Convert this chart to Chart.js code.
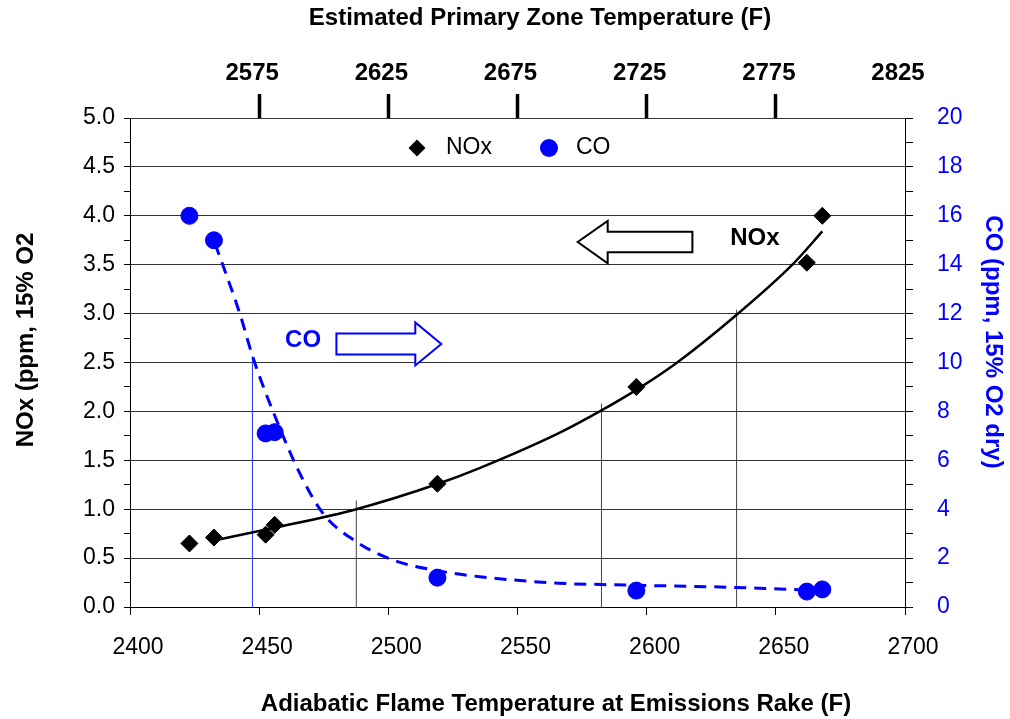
<!DOCTYPE html>
<html>
<head>
<meta charset="utf-8">
<script src="https://cdn.jsdelivr.net/npm/chart.js@4.4.1/dist/chart.umd.min.js"></script>
<style>
  html, body { margin: 0; padding: 0; background: #fff; }
  #wrap { width: 1010px; height: 719px; position: relative; }
</style>
</head>
<body>
<div id="wrap"><canvas id="grafica"></canvas></div>
<script>
// rake temperature (F) of each test point
const tempRake = [2423, 2432.5, 2452.5, 2456, 2519, 2596, 2662, 2668];
const noxPpm = [0.65, 0.71, 0.74, 0.84, 1.26, 2.25, 3.52, 4.00];
const coPpm = [16.0, 15.0, 7.1, 7.15, 1.2, 0.67, 0.63, 0.72];

// trend curves
const noxFitTemp = [2432.5, 2456, 2487.6, 2519.3, 2535.3, 2566.2, 2582.5, 2596, 2611.3, 2634.5, 2656.4, 2668];
const noxFitPpm = [0.68, 0.81, 1.00, 1.26, 1.42, 1.78, 2.01, 2.22, 2.49, 2.98, 3.50, 3.84];
const coFitTemp = [2432.9, 2442.5, 2447.7, 2456.7, 2465.7, 2474.7, 2487.6, 2501.8, 2519.8, 2535.3, 2566.2, 2582.4, 2634.5, 2655, 2668];
const coFitPpm = [14.87, 12.0, 10.17, 7.65, 5.47, 3.83, 2.67, 1.92, 1.47, 1.24, 0.97, 0.92, 0.80, 0.72, 0.68];

// drop lines down to the rake axis
const dropTemp = [2447.4, 2487.6, 2582.5, 2634.8];
const dropTop = [10.25, 1.09, 2.08, 3.04];
const dropAxis = ['y2', 'y', 'y', 'y'];

// primary zone temperature axis (top)
const zoneTicks = [2575, 2625, 2675, 2725, 2775, 2825];
const zoneOffset = 125;

const fuente = "'Liberation Sans', Arial, sans-serif";
const azul = '#0000ff';

function puntos(xs, ys) {
  return xs.map((x, i) => ({ x: x, y: ys[i] }));
}

function esMayor(v, paso) {
  return Math.abs(v / paso - Math.round(v / paso)) < 1e-6;
}

function texto(ctx, t, x, y, rot, font, color, align) {
  ctx.save();
  ctx.translate(x, y);
  ctx.rotate(rot);
  ctx.font = font;
  ctx.fillStyle = color;
  ctx.textAlign = align || 'center';
  ctx.textBaseline = 'middle';
  ctx.fillText(t, 0, 0);
  ctx.restore();
}

function flecha(ctx, x0, x1, yc, body, head, headLen, color) {
  const d = Math.sign(x1 - x0);
  const xb = x1 - d * headLen;
  ctx.beginPath();
  ctx.moveTo(x0, yc - body);
  ctx.lineTo(xb, yc - body);
  ctx.lineTo(xb, yc - head);
  ctx.lineTo(x1, yc);
  ctx.lineTo(xb, yc + head);
  ctx.lineTo(xb, yc + body);
  ctx.lineTo(x0, yc + body);
  ctx.closePath();
  ctx.fillStyle = '#fff';
  ctx.fill();
  ctx.lineWidth = 2;
  ctx.strokeStyle = color;
  ctx.stroke();
}

// axis titles, legend and the two arrow call-outs
const extras = {
  id: 'extras',
  afterDraw(chart) {
    const { ctx, scales } = chart;
    const x = scales.x, y = scales.y;
    const bold = 'bold 24px ' + fuente;
    const normal = '23px ' + fuente;

    texto(ctx, 'Estimated Primary Zone Temperature (F)', 540, 18, 0, bold, '#000');
    texto(ctx, 'Adiabatic Flame Temperature at Emissions Rake (F)', 556, 704, 0, bold, '#000');
    texto(ctx, 'NOx (ppm, 15% O2', 26, 340, -Math.PI / 2, bold, '#000');
    texto(ctx, 'CO (ppm, 15% O2 dry)', 993, 342, Math.PI / 2, bold, azul);

    // legend
    ctx.save();
    ctx.fillStyle = '#000';
    ctx.beginPath();
    ctx.moveTo(408.5, 148); ctx.lineTo(417, 139.5); ctx.lineTo(425.5, 148); ctx.lineTo(417, 156.5);
    ctx.closePath();
    ctx.fill();
    ctx.fillStyle = azul;
    ctx.beginPath();
    ctx.arc(549, 148, 9, 0, Math.PI * 2);
    ctx.fill();
    ctx.restore();
    texto(ctx, 'NOx', 446, 148, 0, normal, '#000', 'left');
    texto(ctx, 'CO', 576, 148, 0, normal, '#000', 'left');

    // call-outs
    flecha(ctx, x.getPixelForValue(2479.9), x.getPixelForValue(2520.5), y.getPixelForValue(2.69), 10.5, 21.5, 26, azul);
    texto(ctx, 'CO', x.getPixelForValue(2467), y.getPixelForValue(2.73), 0, bold, azul);
    flecha(ctx, x.getPixelForValue(2617.7), x.getPixelForValue(2573.3), y.getPixelForValue(3.732), 10.3, 21.2, 30, '#000');
    texto(ctx, 'NOx', x.getPixelForValue(2641.9), y.getPixelForValue(3.77), 0, bold, '#000');
  }
};

const lineasCaida = dropTemp.map((t, i) => ({
  label: 'drop' + i,
  data: [{ x: t, y: 0 }, { x: t, y: dropTop[i] }],
  yAxisID: dropAxis[i],
  borderColor: dropAxis[i] === 'y2' ? '#2233ff' : '#444',
  borderWidth: 1,
  pointRadius: 0,
  showLine: true,
  order: 10 + i
}));

new Chart(document.getElementById('grafica'), {
  type: 'line',
  data: {
    datasets: [
      {
        label: 'NOx',
        data: puntos(tempRake, noxPpm),
        yAxisID: 'y',
        showLine: false,
        pointStyle: 'rectRot',
        pointRadius: 8.5,
        pointBackgroundColor: '#000',
        pointBorderColor: '#000',
        pointBorderWidth: 1,
        order: 0
      },
      {
        label: 'CO',
        data: puntos(tempRake, coPpm),
        yAxisID: 'y2',
        showLine: false,
        pointStyle: 'circle',
        pointRadius: 8.5,
        pointBackgroundColor: azul,
        pointBorderColor: azul,
        pointBorderWidth: 1,
        order: 1
      },
      {
        label: 'NOx fit',
        data: puntos(noxFitTemp, noxFitPpm),
        yAxisID: 'y',
        borderColor: '#000',
        borderWidth: 2.5,
        pointRadius: 0,
        cubicInterpolationMode: 'monotone',
        order: 2
      },
      {
        label: 'CO fit',
        data: puntos(coFitTemp, coFitPpm),
        yAxisID: 'y2',
        borderColor: azul,
        borderWidth: 3,
        borderDash: [12, 8],
        pointRadius: 0,
        cubicInterpolationMode: 'monotone',
        order: 3
      }
    ].concat(lineasCaida)
  },
  options: {
    responsive: true,
    maintainAspectRatio: false,
    animation: false,
    layout: { padding: 0 },
    plugins: {
      legend: { display: false },
      tooltip: { enabled: false }
    },
    scales: {
      x: {
        type: 'linear',
        position: 'bottom',
        min: 2400,
        max: 2700,
        ticks: {
          stepSize: 50,
          padding: 19,
          labelOffset: 8,
          maxRotation: 0,
          color: '#000',
          font: { family: fuente, size: 23 },
          callback: v => String(v)
        },
        grid: { drawOnChartArea: false, tickLength: 8, color: '#000', tickColor: '#000' },
        border: { color: '#000', width: 1 },
        afterFit: s => { s.height = 112; }
      },
      x2: {
        type: 'linear',
        position: 'top',
        min: 2400 + zoneOffset,
        max: 2700 + zoneOffset,
        afterBuildTicks: s => { s.ticks = zoneTicks.map(v => ({ value: v })); },
        ticks: {
          autoSkip: false,
          padding: 6,
          labelOffset: -7,
          maxRotation: 0,
          color: '#000',
          font: { family: fuente, size: 24, weight: 'bold' },
          callback: v => String(v)
        },
        grid: {
          drawOnChartArea: false,
          tickLength: 24,
          tickWidth: 3.5,
          tickColor: c => (c.tick && c.tick.value === 2825) ? 'rgba(0,0,0,0)' : '#000'
        },
        border: { display: true, color: '#333' },
        afterFit: s => { s.height = 118; }
      },
      y: {
        position: 'left',
        min: 0,
        max: 5,
        ticks: {
          count: 21,
          autoSkip: false,
          padding: 9,
          color: '#000',
          font: { family: fuente, size: 23 },
          callback: v => esMayor(v, 0.5) ? v.toFixed(1) : ''
        },
        grid: {
          color: c => esMayor(c.tick.value, 0.5) ? '#333' : 'rgba(0,0,0,0)',
          tickColor: '#000',
          tickLength: 6
        },
        border: { color: '#000' },
        afterFit: s => { s.width = 130; }
      },
      y2: {
        position: 'right',
        min: 0,
        max: 20,
        ticks: {
          count: 21,
          autoSkip: false,
          padding: 24,
          color: azul,
          font: { family: fuente, size: 23 },
          callback: v => esMayor(v, 2) ? String(Math.round(v)) : ''
        },
        grid: { drawOnChartArea: false, tickLength: 8, tickColor: '#000' },
        border: { color: '#000' },
        afterFit: s => { s.width = 105; }
      }
    }
  },
  plugins: [extras]
});
</script>
</body>
</html>
